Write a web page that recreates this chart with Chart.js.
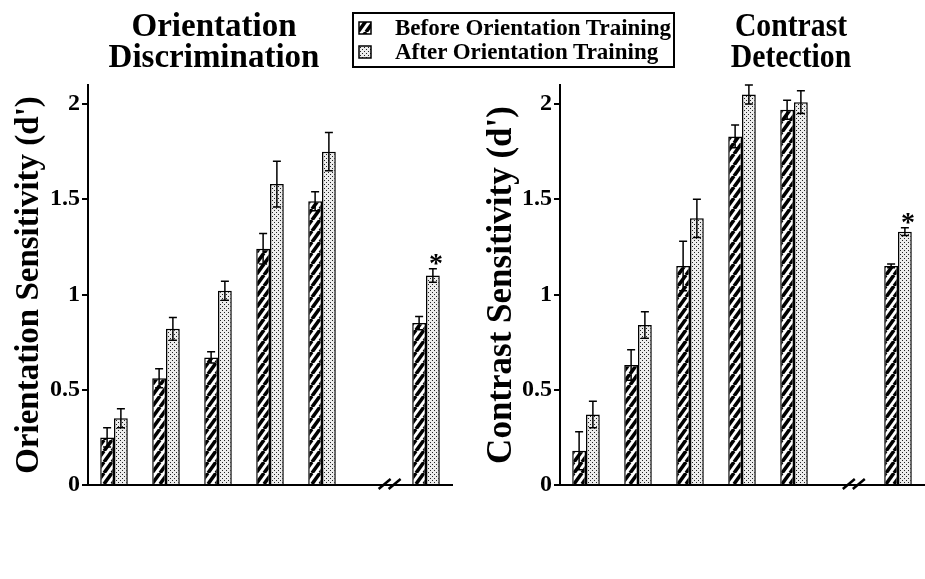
<!DOCTYPE html>
<html>
<head>
<meta charset="utf-8">
<script src="https://cdn.jsdelivr.net/npm/chart.js@4.4.1/dist/chart.umd.min.js"></script>
<style>
  html, body { margin: 0; padding: 0; background: #fff; }
  body {
    width: 925px; height: 579px; position: relative; overflow: hidden;
    font-family: 'Liberation Serif', 'Times New Roman', serif; font-weight: bold; color: #000;
  }
  canvas.panel { position: absolute; top: 0; }
  #leftPanel { left: 0; }
  #rightPanel { left: 462px; }
  .title {
    position: absolute; width: 220px; text-align: center;
    font-size: 33px; line-height: 31px; white-space: nowrap;
  }
  #leftTitle { left: 104px; top: 10px; }
  #rightTitle { left: 681px; top: 10px; transform: scaleX(0.9); transform-origin: center top; }
  #legend {
    position: absolute; left: 352px; top: 12px; width: 319px; height: 52px;
    border: 2px solid #000; font-size: 23px; line-height: 24px;
  }
  #legend .sw { position: absolute; left: 4px; }
  #legend .txt { position: absolute; left: 41px; white-space: nowrap; }
</style>
</head>
<body>
<canvas id="leftPanel" class="panel" width="462" height="579"></canvas>
<canvas id="rightPanel" class="panel" width="463" height="579"></canvas>

<div id="leftTitle" class="title">Orientation<br>Discrimination</div>
<div id="rightTitle" class="title">Contrast<br>Detection</div>

<div id="legend">
  <canvas id="swBefore" class="sw" width="14" height="14" style="top:7px"></canvas>
  <div class="txt" style="top:2px">Before Orientation Training</div>
  <canvas id="swAfter" class="sw" width="14" height="14" style="top:31px"></canvas>
  <div class="txt" style="top:26px">After Orientation Training</div>
</div>

<script>
// Conditions along the x axis (the empty slot holds the axis break)
const conditions = ['1', '2', '3', '4', '5', '', '6'];

// Orientation discrimination d'
const oriBefore    = [0.25, 0.56, 0.67, 1.24, 1.49, null, 0.85];
const oriBeforeErr = [0.05, 0.05, 0.03, 0.08, 0.05, null, 0.035];
const oriAfter     = [0.35, 0.82, 1.02, 1.58, 1.75, null, 1.10];
const oriAfterErr  = [0.05, 0.06, 0.05, 0.12, 0.10, null, 0.035];
const oriSignificant = [false, false, false, false, false, false, true];

// Contrast detection d'
const conBefore    = [0.18, 0.63, 1.15, 1.83, 1.97, null, 1.15];
const conBeforeErr = [0.10, 0.08, 0.13, 0.06, 0.05, null, 0.01];
const conAfter     = [0.37, 0.84, 1.40, 2.05, 2.01, null, 1.33];
const conAfterErr  = [0.07, 0.07, 0.10, 0.05, 0.06, null, 0.02];
const conSignificant = [false, false, false, false, false, false, true];

// Y axis ticks
const yTicks = [0, 0.5, 1, 1.5, 2];
const yMax = 2.1;

const SERIF = "'Liberation Serif', 'Times New Roman', serif";
Chart.defaults.font.family = SERIF;
Chart.defaults.font.weight = 'bold';
Chart.defaults.color = '#000';

// Diagonal black hatching for "before" bars
function hatchPattern() {
  const c = document.createElement('canvas');
  c.width = 8; c.height = 11;
  const g = c.getContext('2d');
  g.fillStyle = '#fff'; g.fillRect(0, 0, 8, 11);
  g.strokeStyle = '#000'; g.lineWidth = 3.6; g.lineCap = 'butt';
  for (const dx of [-8, 0, 8]) {
    g.beginPath(); g.moveTo(dx, 11); g.lineTo(dx + 8, 0); g.stroke();
  }
  return g.createPattern(c, 'repeat');
}

// Staggered stipple for "after" bars
function dotPattern() {
  const c = document.createElement('canvas');
  c.width = 4; c.height = 4;
  const g = c.getContext('2d');
  g.fillStyle = '#ececec'; g.fillRect(0, 0, 4, 4);
  g.fillStyle = '#222';
  g.fillRect(0, 0, 1, 1);
  g.fillRect(2, 2, 1, 1);
  return g.createPattern(c, 'repeat');
}

const HATCH = hatchPattern();
const DOTS = dotPattern();

// Legend swatches
function drawSwatch(id, fill) {
  const g = document.getElementById(id).getContext('2d');
  g.fillStyle = fill; g.fillRect(1, 1, 12, 12);
  g.strokeStyle = '#000'; g.lineWidth = 1.5; g.strokeRect(1, 1, 12, 12);
}
drawSwatch('swBefore', HATCH);
drawSwatch('swAfter', DOTS);

// Error bars (mean ± SE) with caps on both ends
const errorBarPlugin = {
  id: 'errorBars',
  afterDatasetsDraw(chart) {
    const { ctx } = chart;
    const y = chart.scales.y;
    const errs = chart.options.plugins.errorBars.errors;
    ctx.save();
    ctx.strokeStyle = '#000';
    ctx.lineWidth = 1.5;
    chart.data.datasets.forEach((ds, di) => {
      const meta = chart.getDatasetMeta(di);
      meta.data.forEach((bar, i) => {
        const v = ds.data[i], e = errs[di][i];
        if (v == null || e == null) return;
        const top = y.getPixelForValue(v + e);
        const bot = y.getPixelForValue(v - e);
        const cap = 4;
        ctx.beginPath();
        ctx.moveTo(bar.x, top); ctx.lineTo(bar.x, bot);
        ctx.moveTo(bar.x - cap, top); ctx.lineTo(bar.x + cap, top);
        ctx.moveTo(bar.x - cap, bot); ctx.lineTo(bar.x + cap, bot);
        ctx.stroke();
      });
    });
    ctx.restore();
  }
};

// Asterisk over significant "after" bars
const asteriskPlugin = {
  id: 'asterisks',
  afterDatasetsDraw(chart) {
    const { ctx } = chart;
    const y = chart.scales.y;
    const o = chart.options.plugins.asterisks;
    const ds = chart.data.datasets[1];
    const meta = chart.getDatasetMeta(1);
    ctx.save();
    ctx.fillStyle = '#000';
    ctx.font = 'bold 28px ' + SERIF;
    ctx.textAlign = 'center';
    ctx.textBaseline = 'alphabetic';
    o.flags.forEach((f, i) => {
      if (!f) return;
      const v = ds.data[i] + o.errors[i];
      ctx.fillText('*', meta.data[i].x + 3, y.getPixelForValue(v) + 3);
    });
    ctx.restore();
  }
};

// Double-slash break mark on the x axis
const axisBreakPlugin = {
  id: 'axisBreak',
  afterDraw(chart) {
    const { ctx, chartArea } = chart;
    const x = chart.scales.x;
    const at = chart.options.plugins.axisBreak.at;
    const step = x.getPixelForValue(1) - x.getPixelForValue(0);
    const xb = x.getPixelForValue(Math.floor(at)) + (at - Math.floor(at)) * step;
    const yb = chartArea.bottom;
    ctx.save();
    ctx.strokeStyle = '#000';
    ctx.lineWidth = 2.5;
    for (const k of [-1, 1]) {
      const cx = xb + k * 5;
      ctx.beginPath();
      ctx.moveTo(cx - 6, yb + 4);
      ctx.lineTo(cx + 6, yb - 6);
      ctx.stroke();
    }
    ctx.restore();
  }
};

function makePanel(id, before, beforeErr, after, afterErr, flags, yTitle, o) {
  return new Chart(document.getElementById(id), {
    type: 'bar',
    data: {
      labels: conditions,
      datasets: [
        { label: 'Before Orientation Training', data: before, backgroundColor: HATCH,
          borderColor: '#000', borderWidth: 1.5 },
        { label: 'After Orientation Training', data: after, backgroundColor: DOTS,
          borderColor: '#000', borderWidth: 1.5 }
      ]
    },
    options: {
      responsive: false,
      animation: false,
      events: [],
      categoryPercentage: 0.53,
      barPercentage: 1.0,
      layout: { padding: { left: 0, right: o.padRight, top: 85, bottom: 94 } },
      plugins: {
        legend: { display: false },
        tooltip: { enabled: false },
        errorBars: { errors: [beforeErr, afterErr] },
        asterisks: { flags: flags, errors: afterErr },
        axisBreak: { at: o.breakAt }
      },
      scales: {
        x: {
          offset: true,
          ticks: { display: false },
          grid: { display: false, drawTicks: false },
          border: { display: true, color: '#000', width: 2 },
          afterFit(s) { s.height = 0; }
        },
        y: {
          min: 0, max: yMax,
          afterBuildTicks(s) { s.ticks = yTicks.map(v => ({ value: v })); },
          ticks: { color: '#000', padding: 2, font: { size: 24, weight: 'bold' },
                   callback: v => String(v) },
          grid: { display: true, drawOnChartArea: false, drawTicks: true, tickLength: 6,
                  color: '#000', lineWidth: 2 },
          border: { display: true, color: '#000', width: 2 },
          title: { display: true, text: yTitle, color: '#000',
                   font: { size: o.titleSize, weight: 'bold' },
                   padding: { top: o.titlePad, bottom: 0 } },
          afterFit(s) { s.width = o.axisWidth; }
        }
      }
    },
    plugins: [errorBarPlugin, asteriskPlugin, axisBreakPlugin]
  });
}

makePanel('leftPanel', oriBefore, oriBeforeErr, oriAfter, oriAfterErr, oriSignificant,
  "Orientation Sensitivity (d')",
  { axisWidth: 88, padRight: 10, titleSize: 33, titlePad: 10, breakAt: 5.3 });

makePanel('rightPanel', conBefore, conBeforeErr, conAfter, conAfterErr, conSignificant,
  "Contrast Sensitivity (d')",
  { axisWidth: 98, padRight: 1, titleSize: 35, titlePad: 19, breakAt: 5.15 });
</script>
</body>
</html>
